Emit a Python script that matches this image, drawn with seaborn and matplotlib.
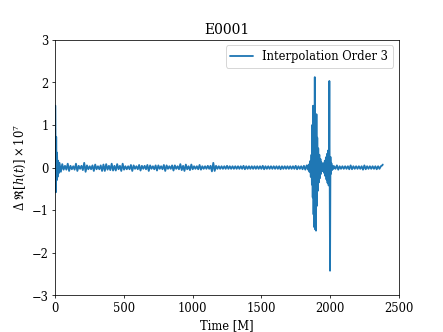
import matplotlib
matplotlib.use("Agg")
import matplotlib.pyplot as plt
import seaborn as sns

# ── data (time in M, residual x 1e7) ──────────────────────────────────────
time_M = [
    0, 3, 6, 9, 12, 16, 20, 25, 30,
    40, 50, 60, 70, 80, 90, 100, 110, 120, 130,
    140, 150, 160, 170, 180, 190, 200, 210, 220, 230,
    240, 250, 260, 270, 280, 290, 300, 310, 320, 330,
    340, 350, 360, 370, 380, 390, 400, 410, 420, 430,
    440, 450, 460, 470, 480, 490, 500, 510, 520, 530,
    540, 550, 560, 570, 580, 590, 600, 610, 620, 630,
    640, 650, 660, 670, 680, 690, 700, 710, 720, 730,
    740, 750, 760, 770, 780, 790, 800, 810, 820, 830,
    840, 850, 860, 870, 880, 890, 900, 910, 920, 930,
    940, 950, 960, 970, 980, 990, 1000, 1010, 1020, 1030,
    1040, 1050, 1060, 1070, 1080, 1090, 1100, 1110, 1120, 1130,
    1140, 1150, 1160, 1170, 1180, 1190, 1200, 1210, 1220, 1230,
    1240, 1250, 1260, 1270, 1280, 1290, 1300, 1310, 1320, 1330,
    1340, 1350, 1360, 1370, 1380, 1390, 1400, 1410, 1420, 1430,
    1440, 1450, 1460, 1470, 1480, 1490, 1500, 1510, 1520, 1530,
    1540, 1550, 1560, 1570, 1580, 1590, 1600, 1610, 1620, 1630,
    1640, 1650, 1660, 1670, 1680, 1690, 1700, 1710, 1720, 1730,
    1740, 1750, 1760, 1770, 1780, 1790, 1800, 1810, 1820, 1830,
    1840, 1845, 1850, 1855, 1860, 1865, 1868, 1871, 1874, 1877,
    1880, 1883, 1886, 1889, 1892, 1895, 1898, 1901, 1904, 1907,
    1910, 1914, 1918, 1922, 1926, 1930, 1934, 1938, 1942, 1946,
    1950, 1954, 1958, 1962, 1966, 1970, 1974, 1978, 1982, 1986,
    1990, 1993, 1995, 1998, 2000, 2003, 2006, 2010, 2015, 2020,
    2025, 2030,
    2040, 2050, 2060, 2070, 2080, 2090, 2100, 2110, 2120, 2130,
    2140, 2150, 2160, 2170, 2180, 2190, 2200, 2210, 2220, 2230,
    2240, 2250, 2260, 2270, 2280, 2290, 2300, 2310, 2320, 2330,
    2340, 2350, 2360, 2370, 2380, 2384,
]

delta_re = [
    1.45, -0.58, 0.72, -0.30, 0.35, -0.22, 0.16, -0.13, 0.11,
    -0.10, 0.08, -0.05, 0.04, -0.05, 0.09, -0.08, 0.04, -0.04, 0.03,
    -0.05, 0.09, -0.08, 0.04, -0.03, 0.04, -0.06, 0.11, -0.10, 0.05,
    -0.04, 0.03, -0.04, 0.05, -0.08, 0.07, -0.04, 0.03, -0.04, 0.05,
    -0.08, 0.07, -0.08, 0.08, -0.05, 0.04, -0.06, 0.09, -0.07, 0.04,
    -0.07, 0.08, -0.04, 0.04, -0.08, 0.09, -0.05, 0.03, -0.04, 0.03,
    -0.04, 0.06, -0.08, 0.05, -0.03, 0.03, -0.04, 0.06, -0.07, 0.04,
    -0.03, 0.04, -0.04, 0.06, -0.08, 0.05, -0.03, 0.03, -0.04, 0.05,
    -0.07, 0.05, -0.03, 0.03, -0.04, 0.06, -0.08, 0.05, -0.03, 0.03,
    -0.03, 0.05, -0.07, 0.05, -0.03, 0.03, -0.04, 0.08, -0.06, 0.04,
    -0.08, 0.07, -0.04, 0.03, -0.06, 0.07, -0.04, 0.03, -0.03, 0.03,
    -0.04, 0.06, -0.05, 0.03, -0.03, 0.03, -0.03, 0.04, -0.03, 0.04,
    -0.09, 0.11, -0.08, 0.04, -0.03, 0.03, -0.03, 0.03, -0.03, 0.03,
    -0.03, 0.04, -0.03, 0.03, -0.03, 0.03, -0.03, 0.03, -0.03, 0.03,
    -0.03, 0.03, -0.03, 0.04, -0.04, 0.03, -0.03, 0.03, -0.03, 0.03,
    -0.03, 0.03, -0.03, 0.03, -0.03, 0.03, -0.03, 0.04, -0.04, 0.03,
    -0.03, 0.03, -0.03, 0.03, -0.03, 0.03, -0.03, 0.03, -0.03, 0.03,
    -0.04, 0.03, -0.03, 0.03, -0.03, 0.03, -0.03, 0.03, -0.03, 0.03,
    -0.03, 0.04, -0.04, 0.03, -0.03, 0.03, -0.04, 0.04, -0.05, 0.05,
    -0.05, 0.07, -0.10, 0.15, -0.22, 0.30, -0.40, 1.00, -0.70, 1.45,
    -1.10, 1.30, -1.40, 2.12, -1.45, 1.00, -1.48, 1.25, -0.90, 0.70,
    -0.55, 0.45, -0.35, 0.30, -0.25, 0.20, -0.15, 0.12, -0.08, 0.06,
    -0.08, 0.10, -0.13, 0.16, -0.20, 0.24, -0.28, 0.32, -0.36, 0.40,
    -0.42, 0.45, 2.03, -0.30, -2.42, 0.25, -0.15, 0.10, -0.06, 0.04,
    -0.03, 0.03,
    -0.03, 0.05, -0.05, 0.03, -0.03, 0.03, -0.03, 0.03, -0.03, 0.03,
    -0.04, 0.05, -0.04, 0.03, -0.03, 0.03, -0.03, 0.03, -0.03, 0.03,
    -0.05, 0.05, -0.04, 0.03, -0.03, 0.03, -0.03, 0.03, -0.03, 0.03,
    -0.04, 0.03, -0.03, 0.03, 0.05, 0.07,
]

series_label = "Interpolation Order 3"
sim_name = "E0001"

# ── style: plain matplotlib-like look, black frame and text ───────────────
sns.set_style("ticks", rc={
    "axes.edgecolor": "black",
    "axes.labelcolor": "black",
    "text.color": "black",
    "xtick.color": "black",
    "ytick.color": "black",
    "axes.linewidth": 0.8,
})
plt.rcParams["font.family"] = ["DejaVu Serif"]
plt.rcParams["mathtext.fontset"] = "dejavuserif"
plt.rcParams["font.size"] = 12

fig, ax = plt.subplots(figsize=(6.4, 4.8), dpi=443 / 6.4)
sns.lineplot(x=time_M, y=delta_re, ax=ax, color="#1f77b4",
             linewidth=1.9, label=series_label)

ax.set_xlim(0, 2500)
ax.set_ylim(-3, 3)
ax.set_xticks([0, 500, 1000, 1500, 2000, 2500])
ax.set_yticks([-3, -2, -1, 0, 1, 2, 3])
ax.set_title(sim_name)
ax.set_xlabel("Time [M]")
ax.set_ylabel(r"$\Delta\ \Re[h(t)] \times 10^7$")
ax.legend(loc="upper right")
for s in ax.spines.values():
    s.set_visible(True)

fig.savefig("out.png", dpi=443 / 6.4)
